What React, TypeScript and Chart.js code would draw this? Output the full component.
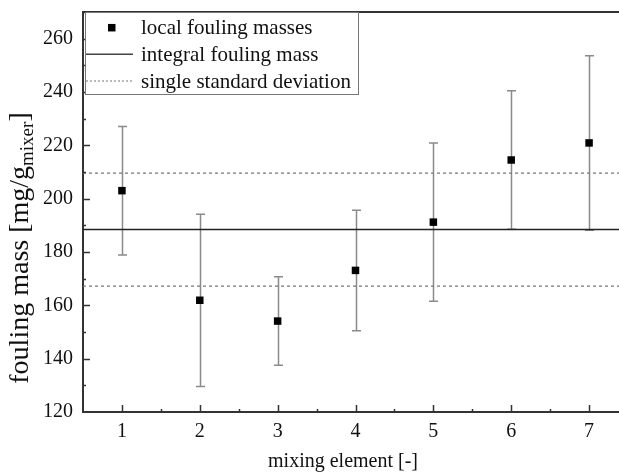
import React, { useEffect, useRef } from "react";
import { Chart, registerables } from "chart.js";

Chart.register(...registerables);

// Mixing elements along the static mixer
const elements = [1, 2, 3, 4, 5, 6, 7];
// Local fouling mass per element [mg/g_mixer]
const localMass = [203.0, 161.9, 154.1, 173.1, 191.2, 214.5, 220.9];
// Standard deviation of each local measurement
const localSd = [24.1, 32.3, 16.6, 22.6, 29.7, 26.0, 32.7];
// Integral fouling mass over the whole mixer and its standard deviation
const integralMass = 188.4;
const integralSd = 21.2;

const xTicks = [1, 2, 3, 4, 5, 6, 7];
const yTicks = [120, 140, 160, 180, 200, 220, 240, 260];

const legendLabels = ["local fouling masses", "integral fouling mass", "single standard deviation"];

const SERIF = "'Liberation Serif', 'Times New Roman', serif";
const W = 640;
const H = 472;

const errorBars = {
  id: "errorBars",
  beforeDatasetsDraw(chart: any) {
    const { ctx, scales } = chart;
    const xs = scales.x;
    const ys = scales.y;
    ctx.save();
    ctx.strokeStyle = "#8a8a8a";
    ctx.lineWidth = 1.5;
    elements.forEach((e, i) => {
      const px = Math.round(xs.getPixelForValue(e)) + 0.5;
      const top = ys.getPixelForValue(localMass[i] + localSd[i]);
      const bot = ys.getPixelForValue(localMass[i] - localSd[i]);
      ctx.beginPath();
      ctx.moveTo(px, top);
      ctx.lineTo(px, bot);
      ctx.moveTo(px - 4.5, top);
      ctx.lineTo(px + 4.5, top);
      ctx.moveTo(px - 4.5, bot);
      ctx.lineTo(px + 4.5, bot);
      ctx.stroke();
    });
    ctx.restore();
  },
};

const frame = {
  id: "frame",
  afterDraw(chart: any) {
    const { ctx, chartArea, scales } = chart;
    const xs = scales.x;
    const ys = scales.y;
    ctx.save();
    ctx.strokeStyle = "#333";
    ctx.lineWidth = 2;
    // top border
    ctx.beginPath();
    ctx.moveTo(chartArea.left, chartArea.top);
    ctx.lineTo(chartArea.right + 2, chartArea.top);
    ctx.stroke();

    // inward tick marks on the bottom axis
    ctx.lineWidth = 1.5;
    ctx.beginPath();
    for (let v = 1; v <= 7; v += 0.5) {
      const px = Math.round(xs.getPixelForValue(v)) + 0.5;
      const len = Number.isInteger(v) ? 7 : 3;
      ctx.moveTo(px, chartArea.bottom);
      ctx.lineTo(px, chartArea.bottom - len);
    }
    // inward tick marks on the left axis
    for (let v = 130; v <= 270; v += 10) {
      const py = Math.round(ys.getPixelForValue(v)) + 0.5;
      const len = v % 20 === 0 ? 7 : 3;
      ctx.moveTo(chartArea.left, py);
      ctx.lineTo(chartArea.left + len, py);
    }
    ctx.stroke();

    // x axis title
    ctx.fillStyle = "#111";
    ctx.font = `20px ${SERIF}`;
    ctx.textAlign = "center";
    ctx.textBaseline = "middle";
    ctx.fillText("mixing element [-]", 343, 462);

    // y axis title with subscript
    const main1 = "fouling mass [mg/g";
    const sub = "mixer";
    const main2 = "]";
    const mainFont = `28px ${SERIF}`;
    const subFont = `19px ${SERIF}`;
    ctx.font = mainFont;
    const w1 = ctx.measureText(main1).width;
    const w3 = ctx.measureText(main2).width;
    ctx.font = subFont;
    const w2 = ctx.measureText(sub).width;
    const total = w1 + w2 + w3;
    ctx.translate(0, 248);
    ctx.rotate(-Math.PI / 2);
    ctx.textAlign = "left";
    ctx.textBaseline = "alphabetic";
    let x0 = -total / 2;
    ctx.font = mainFont;
    ctx.fillText(main1, x0, 28);
    x0 += w1;
    ctx.font = subFont;
    ctx.fillText(sub, x0, 33);
    x0 += w2;
    ctx.font = mainFont;
    ctx.fillText(main2, x0, 28);
    ctx.restore();

    // legend box
    ctx.save();
    const bx = chartArea.left + 2;
    const by = chartArea.top;
    const bw = 273;
    const bh = 82;
    ctx.fillStyle = "#fff";
    ctx.fillRect(bx, by, bw, bh);
    ctx.strokeStyle = "#777";
    ctx.lineWidth = 1;
    ctx.strokeRect(bx + 0.5, by + 0.5, bw, bh);
    const rows = [by + 15.7, by + 42.3, by + 69];
    // marker
    ctx.fillStyle = "#000";
    ctx.fillRect(108, rows[0] - 3.75, 7.5, 7.5);
    // solid line
    ctx.strokeStyle = "#444";
    ctx.lineWidth = 1.5;
    ctx.beginPath();
    ctx.moveTo(bx + 1, rows[1]);
    ctx.lineTo(133, rows[1]);
    ctx.stroke();
    // dashed line
    ctx.strokeStyle = "#777";
    ctx.lineWidth = 1;
    ctx.setLineDash([2, 2]);
    ctx.beginPath();
    ctx.moveTo(bx + 1, rows[2]);
    ctx.lineTo(133, rows[2]);
    ctx.stroke();
    ctx.setLineDash([]);
    ctx.fillStyle = "#111";
    ctx.font = `21px ${SERIF}`;
    ctx.textAlign = "left";
    ctx.textBaseline = "middle";
    legendLabels.forEach((t, i) => ctx.fillText(t, 141, rows[i] + 1));
    ctx.restore();
  },
};

export default function App() {
  const ref = useRef<HTMLCanvasElement | null>(null);

  useEffect(() => {
    if (!ref.current) return;
    const hLine = (y: number) => [
      { x: 0.5, y },
      { x: 7.5, y },
    ];
    const chart = new Chart(ref.current, {
      type: "scatter",
      data: {
        datasets: [
          {
            label: legendLabels[0],
            data: elements.map((e, i) => ({ x: e, y: localMass[i] })),
            pointStyle: "rect",
            pointRadius: 5.3,
            backgroundColor: "#000",
            borderColor: "#000",
            borderWidth: 0,
            order: 0,
          },
          {
            type: "line",
            label: legendLabels[1],
            data: hLine(integralMass),
            borderColor: "#222",
            borderWidth: 1.5,
            pointRadius: 0,
            order: 1,
          },
          {
            type: "line",
            label: legendLabels[2],
            data: hLine(integralMass + integralSd),
            borderColor: "#777",
            borderWidth: 1.2,
            borderDash: [3, 3],
            pointRadius: 0,
            order: 2,
          },
          {
            type: "line",
            label: legendLabels[2],
            data: hLine(integralMass - integralSd),
            borderColor: "#777",
            borderWidth: 1.2,
            borderDash: [3, 3],
            pointRadius: 0,
            order: 2,
          },
        ],
      },
      options: {
        responsive: false,
        animation: false,
        devicePixelRatio: 1,
        layout: { padding: { top: 12, right: W - 628, left: 0, bottom: 0 } },
        plugins: {
          legend: { display: false },
          tooltip: { enabled: false },
        },
        scales: {
          x: {
            type: "linear",
            min: 0.5,
            max: 7.5,
            afterBuildTicks: (s: any) => {
              s.ticks = xTicks.map((v) => ({ value: v }));
            },
            afterFit: (s: any) => {
              s.height = H - 412;
              s.paddingLeft = 0;
              s.paddingRight = 0;
            },
            grid: { display: false, drawTicks: false },
            border: { display: true, color: "#333", width: 2 },
            ticks: {
              font: { family: SERIF, size: 20 },
              color: "#111",
              padding: 8,
              maxRotation: 0,
              callback: (v: any) => String(v),
            },
          },
          y: {
            min: 120,
            max: 270,
            afterBuildTicks: (s: any) => {
              s.ticks = yTicks.map((v) => ({ value: v }));
            },
            afterFit: (s: any) => {
              s.width = 83;
              s.paddingTop = 0;
              s.paddingBottom = 0;
            },
            grid: { display: false, drawTicks: false },
            border: { display: true, color: "#333", width: 2 },
            ticks: {
              font: { family: SERIF, size: 20 },
              color: "#111",
              padding: 10,
              callback: (v: any) => String(v),
            },
          },
        },
      },
      plugins: [errorBars, frame],
    });
    return () => chart.destroy();
  }, []);

  return (
    <div
      style={{
        position: "fixed",
        left: 0,
        top: 0,
        width: 619,
        height: H,
        overflow: "hidden",
        background: "#fff",
      }}
    >
      <canvas ref={ref} width={W} height={H} style={{ width: W, height: H, display: "block" }} />
    </div>
  );
}
